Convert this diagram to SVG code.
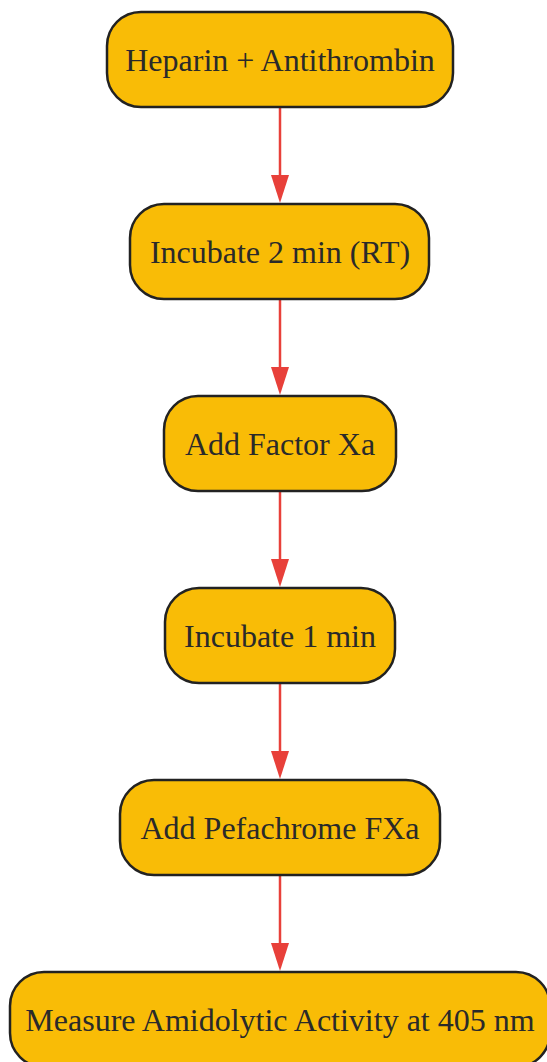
<svg xmlns="http://www.w3.org/2000/svg" width="547" height="1062" viewBox="0 0 547 1062">
<defs>
<style>
.n rect{fill:#f9bc06;stroke:#222;stroke-width:2.5}
.n text{font-family:"Liberation Serif","Times New Roman",serif;font-size:32px;fill:#2a2a2a;text-anchor:middle}
.e line{stroke:#e8403a;stroke-width:2.5}
.e path{fill:#e8403a}
</style>
</defs>
<rect width="547" height="1062" fill="#fff"/>
<g class="e" id="connectors">
<line x1="280" y1="108" x2="280" y2="175"/><path d="M271,175 L289,175 L280,203 Z"/>
<line x1="280" y1="300" x2="280" y2="367"/><path d="M271,367 L289,367 L280,395 Z"/>
<line x1="280" y1="492" x2="280" y2="559"/><path d="M271,559 L289,559 L280,587 Z"/>
<line x1="280" y1="684" x2="280" y2="751"/><path d="M271,751 L289,751 L280,779 Z"/>
<line x1="280" y1="876" x2="280" y2="943"/><path d="M271,943 L289,943 L280,971 Z"/>
</g>
<g class="n" id="n1"><rect x="107" y="12" width="346" height="95" rx="34"/><text x="280" y="71">Heparin + Antithrombin</text></g>
<g class="n" id="n2"><rect x="130" y="204" width="299" height="95" rx="34"/><text x="280" y="263">Incubate 2 min (RT)</text></g>
<g class="n" id="n3"><rect x="164" y="396" width="232" height="95" rx="34"/><text x="280" y="455">Add Factor Xa</text></g>
<g class="n" id="n4"><rect x="165" y="588" width="230" height="95" rx="34"/><text x="280" y="647">Incubate 1 min</text></g>
<g class="n" id="n5"><rect x="120" y="780" width="320" height="95" rx="34"/><text x="280" y="839">Add Pefachrome FXa</text></g>
<g class="n" id="n6"><rect x="10" y="972" width="540" height="95" rx="34"/><text x="280" y="1031">Measure Amidolytic Activity at 405 nm</text></g>
</svg>
